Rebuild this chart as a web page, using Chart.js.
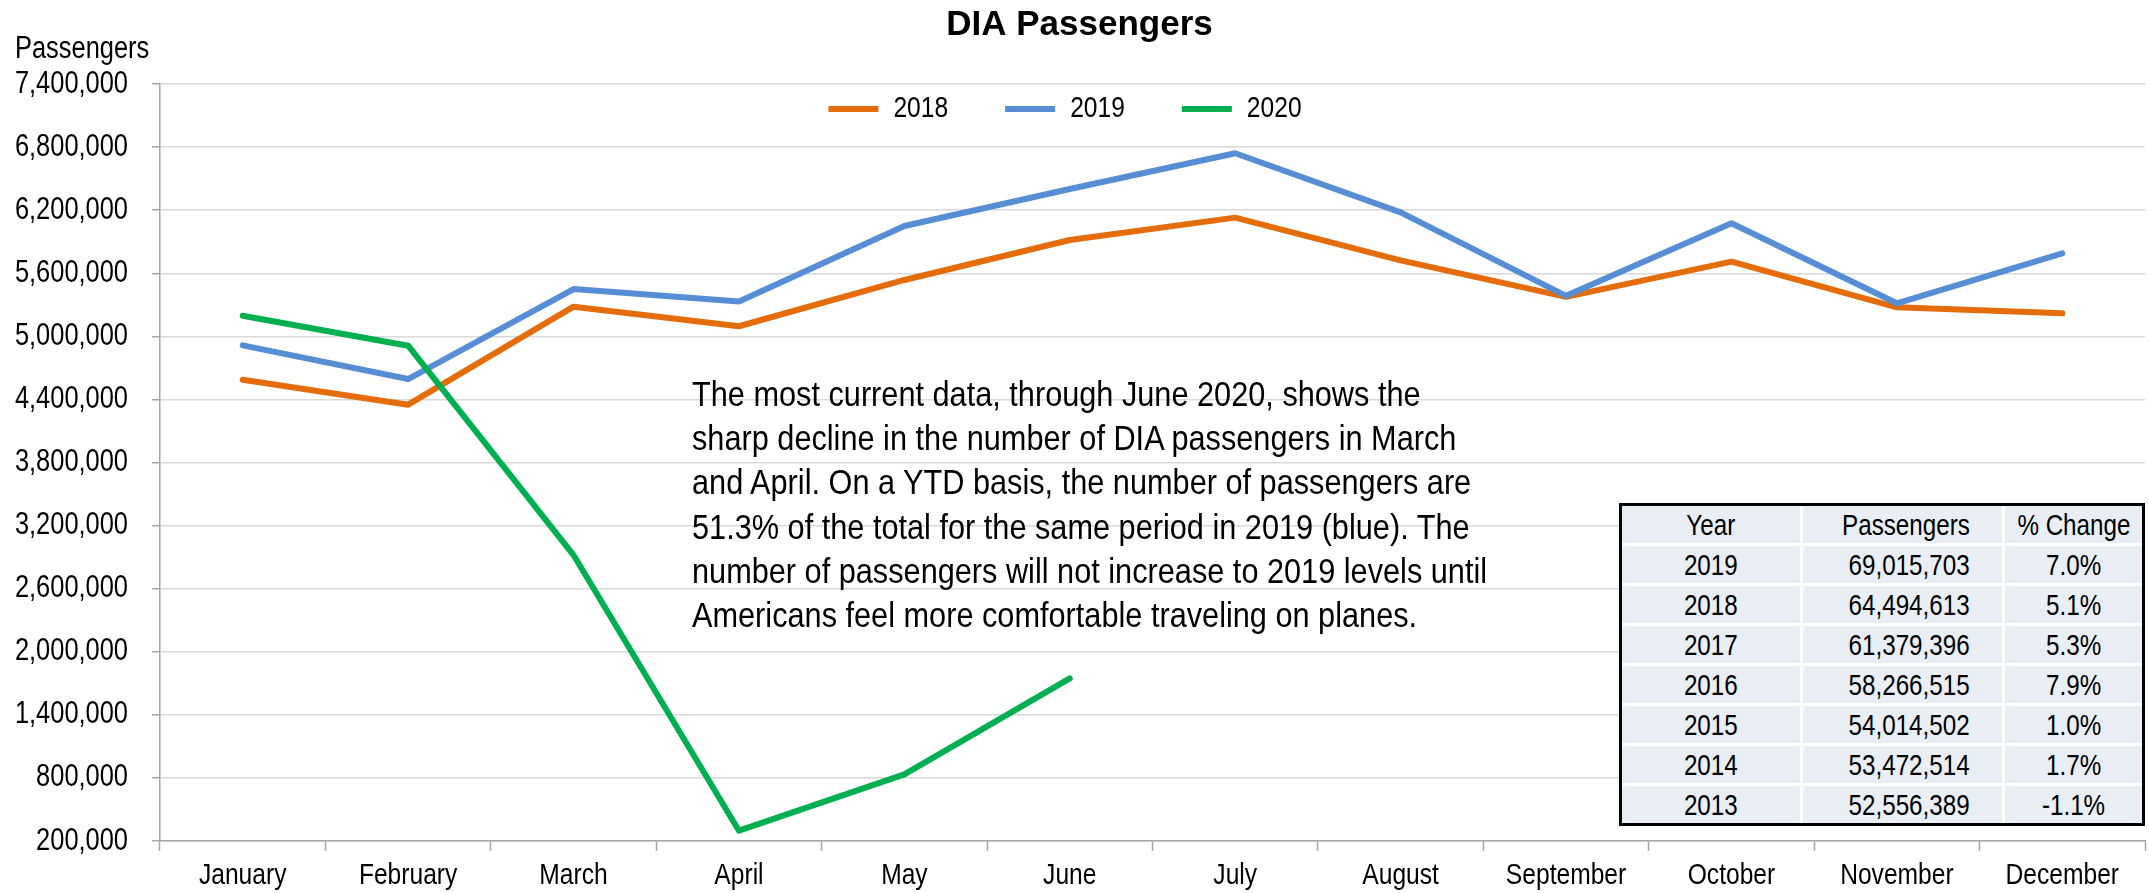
<!DOCTYPE html>
<html>
<head>
<meta charset="utf-8">
<script src="https://cdn.jsdelivr.net/npm/chart.js@4.4.1/dist/chart.umd.min.js"></script>
<style>
  html, body { margin: 0; padding: 0; background: #ffffff; }
  #wrap { position: relative; width: 2149px; height: 893px; overflow: hidden; }
  #chart { position: absolute; left: 0; top: 0; }
  .txt { font-family: 'Liberation Sans', Arial, sans-serif; color: #000; }
  #note { position: absolute; left: 692px; top: 372px; font-size: 35px; line-height: 44.2px; white-space: nowrap; transform: scaleX(0.877); transform-origin: 0 0; }
  #tbl { position: absolute; left: 1619px; top: 503px; width: 526px; height: 323px; box-sizing: border-box; border: 3px solid #000; background: #ffffff;
         display: grid; grid-template-columns: 178px 199px 137px; grid-auto-rows: 37px; column-gap: 3px; row-gap: 3px; font-size: 29.5px; }
  #tbl .cell { background: #E9EDF4; display: flex; align-items: center; justify-content: center; white-space: nowrap; }
  #tbl .cell.num { justify-content: flex-end; padding-right: 32px; }
  #tbl .cell span { display: inline-block; transform: scaleX(0.82); transform-origin: 50% 50%; }
  #tbl .cell.num span { transform-origin: 100% 50%; }
</style>
</head>
<body>
<div id="wrap">
  <canvas id="chart" width="2149" height="893"></canvas>
  <div id="note" class="txt"></div>
  <div id="tbl" class="txt"></div>
</div>
<script>
// ---- data ----
const months = ['January', 'February', 'March', 'April', 'May', 'June', 'July', 'August', 'September', 'October', 'November', 'December'];
const seriesNames = ['2018', '2019', '2020'];
const passengers2018 = [4587000, 4350000, 5282000, 5096000, 5536000, 5916000, 6129000, 5722000, 5375000, 5710000, 5276000, 5219000];
const passengers2019 = [4914000, 4594000, 5450000, 5331000, 6049000, 6401000, 6741000, 6179000, 5385000, 6075000, 5314000, 5789000];
const passengers2020 = [5196000, 4911000, 2920000, 298000, 833000, 1746000];
const yMin = 200000;
const yMax = 7400000;
const yStep = 600000;

const tableHeader = ['Year', 'Passengers', '% Change'];
const tableYears = ['2019', '2018', '2017', '2016', '2015', '2014', '2013'];
const tableTotals = ['69,015,703', '64,494,613', '61,379,396', '58,266,515', '54,014,502', '53,472,514', '52,556,389'];
const tableChanges = ['7.0%', '5.1%', '5.3%', '7.9%', '1.0%', '1.7%', '-1.1%'];

const titleText = 'DIA Passengers';
const axisLabelText = 'Passengers';
const noteLines = [
  'The most current data, through June 2020, shows the',
  'sharp decline in the number of DIA passengers in March',
  'and April. On a YTD basis, the number of passengers are',
  '51.3% of the total for the same period in 2019 (blue). The',
  'number of passengers will not increase to 2019 levels until',
  'Americans feel more comfortable traveling on planes.'
];

// ---- styles ----
const FONT = "'Liberation Sans', Arial, sans-serif";
const NARROW = 0.82;
const colors = ['#E46C0A', '#558ED5', '#00B050'];
const gridColor = '#d9d9d9';
const axisColor = '#a6a6a6';

// ---- overlay text & table ----
document.getElementById('note').innerHTML = noteLines.map(l => '<div>' + l + '</div>').join('');
const tbl = document.getElementById('tbl');
const cell = (t, cls) => '<div class="cell' + (cls ? ' ' + cls : '') + '"><span>' + t + '</span></div>';
let html = cell(tableHeader[0]) + cell(tableHeader[1], 'num') + cell(tableHeader[2]);
for (let i = 0; i < tableYears.length; i++) {
  html += cell(tableYears[i]) + cell(tableTotals[i], 'num') + cell(tableChanges[i]);
}
tbl.innerHTML = html;

// ---- condensed text rendering on the chart canvas (non-bold text only) ----
const canvas = document.getElementById('chart');
const c2d = canvas.getContext('2d');
const origFill = c2d.fillText.bind(c2d);
const origMeasure = c2d.measureText.bind(c2d);
const isNarrow = () => !/bold/.test(c2d.font);
c2d.fillText = function (t, x, y, maxW) {
  if (!isNarrow()) return maxW === undefined ? origFill(t, x, y) : origFill(t, x, y, maxW);
  c2d.save();
  c2d.translate(x, y);
  c2d.scale(NARROW, 1);
  if (maxW === undefined) origFill(t, 0, 0); else origFill(t, 0, 0, maxW / NARROW);
  c2d.restore();
};
c2d.measureText = function (t) {
  const m = origMeasure(t);
  if (!isNarrow()) return m;
  return {
    width: m.width * NARROW,
    actualBoundingBoxAscent: m.actualBoundingBoxAscent,
    actualBoundingBoxDescent: m.actualBoundingBoxDescent,
    actualBoundingBoxLeft: m.actualBoundingBoxLeft * NARROW,
    actualBoundingBoxRight: m.actualBoundingBoxRight * NARROW,
    fontBoundingBoxAscent: m.fontBoundingBoxAscent,
    fontBoundingBoxDescent: m.fontBoundingBoxDescent
  };
};

// ---- plugins ----
const axisLabelPlugin = {
  id: 'axisLabel',
  afterDraw(chart) {
    const ctx = chart.ctx;
    ctx.save();
    ctx.font = '31px ' + FONT;
    ctx.fillStyle = '#000';
    ctx.textAlign = 'left';
    ctx.textBaseline = 'alphabetic';
    ctx.fillText(axisLabelText, 15, 58);
    ctx.restore();
  }
};

const LEGEND_FONT = 30;
const legendPlacer = {
  id: 'legendPlacer',
  afterLayout(chart) {
    const lg = chart.legend;
    if (!lg) return;
    const pad = lg.options.labels.padding;
    const w = lg.right - lg.left;
    const cx = 1065;
    lg.left = cx - w / 2;
    lg.right = cx + w / 2;
    lg.top = 109 - LEGEND_FONT / 2 - pad;
    lg.height = 2 * pad + LEGEND_FONT + 10;
    lg.bottom = lg.top + lg.height;
  }
};

const ds = (label, data, color, order) => ({
  label, data,
  borderColor: color,
  backgroundColor: color,
  borderWidth: 6,
  pointRadius: 0,
  pointHoverRadius: 0,
  tension: 0,
  fill: false,
  borderCapStyle: 'round',
  borderJoinStyle: 'round',
  order
});

new Chart(canvas, {
  type: 'line',
  data: {
    labels: months,
    datasets: [
      ds(seriesNames[0], passengers2018, colors[0], 3),
      ds(seriesNames[1], passengers2019, colors[1], 2),
      ds(seriesNames[2], passengers2020, colors[2], 1)
    ]
  },
  plugins: [axisLabelPlugin, legendPlacer],
  options: {
    responsive: false,
    animation: false,
    devicePixelRatio: 1,
    layout: { padding: { left: 14, right: 4, top: 0, bottom: 0 } },
    plugins: {
      title: {
        display: true,
        text: titleText,
        color: '#000',
        font: { family: FONT, size: 35, weight: 'bold', lineHeight: 1.2 },
        padding: { top: 4, bottom: 37 }
      },
      legend: {
        display: true,
        position: 'top',
        align: 'center',
        maxHeight: 1,
        labels: {
          usePointStyle: true,
          pointStyle: 'line',
          pointStyleWidth: 50,
          color: '#000',
          font: { family: FONT, size: LEGEND_FONT },
          padding: 57,
          sort: (a, b) => a.datasetIndex - b.datasetIndex
        }
      },
      tooltip: { enabled: false }
    },
    scales: {
      x: {
        type: 'category',
        offset: true,
        grid: {
          display: true,
          drawOnChartArea: false,
          drawTicks: true,
          tickLength: 10,
          tickColor: axisColor,
          tickWidth: 1.5,
          offset: true
        },
        border: { display: true, color: axisColor, width: 1.5 },
        ticks: {
          color: '#000',
          font: { family: FONT, size: 30 },
          autoSkip: false,
          maxRotation: 0,
          minRotation: 0,
          padding: 7
        },
        afterFit(scale) { scale.height = 52; }
      },
      y: {
        min: yMin,
        max: yMax,
        grid: {
          color: gridColor,
          lineWidth: 1.5,
          drawTicks: true,
          tickLength: 8,
          tickColor: axisColor,
          tickWidth: 1.5
        },
        border: { display: true, color: axisColor, width: 1.5 },
        ticks: {
          stepSize: yStep,
          color: '#000',
          font: { family: FONT, size: 31 },
          padding: 24,
          callback: v => Number(v).toLocaleString('en-US')
        },
        afterFit(scale) { scale.width = 146; }
      }
    }
  }
});
</script>
</body>
</html>
